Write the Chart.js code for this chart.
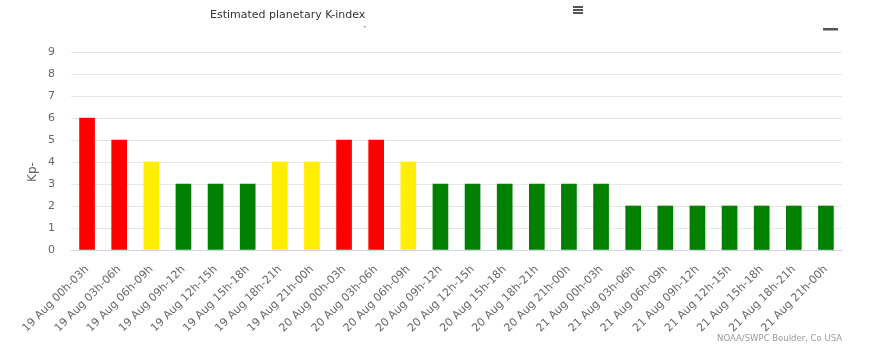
<!DOCTYPE html>
<html>
<head>
<meta charset="utf-8">
<script src="https://cdn.jsdelivr.net/npm/chart.js@4/dist/chart.umd.min.js"></script>
<style>
  html, body { margin: 0; padding: 0; background: #fff; }
  #wrap { position: relative; width: 871px; height: 347px; }
</style>
</head>
<body>
<div id="wrap"><canvas id="kpChart" width="871" height="347"></canvas></div>
<script>
// Periodos de 3 horas (eje X)
const periodos = [
    '19 Aug 00h-03h', '19 Aug 03h-06h', '19 Aug 06h-09h', '19 Aug 09h-12h',
    '19 Aug 12h-15h', '19 Aug 15h-18h', '19 Aug 18h-21h', '19 Aug 21h-00h',
    '20 Aug 00h-03h', '20 Aug 03h-06h', '20 Aug 06h-09h', '20 Aug 09h-12h',
    '20 Aug 12h-15h', '20 Aug 15h-18h', '20 Aug 18h-21h', '20 Aug 21h-00h',
    '21 Aug 00h-03h', '21 Aug 03h-06h', '21 Aug 06h-09h', '21 Aug 09h-12h',
    '21 Aug 12h-15h', '21 Aug 15h-18h', '21 Aug 18h-21h', '21 Aug 21h-00h'
];

// Valores Kp estimados
const valoresKp = [6, 5, 4, 3, 3, 3, 4, 4, 5, 5, 4, 3, 3, 3, 3, 3, 3, 2, 2, 2, 2, 2, 2, 2];

// Marcas del eje Y
const marcasY = [0, 1, 2, 3, 4, 5, 6, 7, 8, 9];

const tituloGrafico = 'Estimated planetary K-index';
const tituloEjeY = 'Kp-';
const creditos = 'NOAA/SWPC Boulder, Co USA';

// Color segun el nivel de Kp
function colorKp(v) {
    if (v >= 5) return '#ff0000';
    if (v >= 4) return '#ffee00';
    return '#008000';
}

const FUENTE = '"DejaVu Sans", sans-serif';

// Plugin para el titulo, el menu, el titulo del eje Y y los creditos
const decoraciones = {
    id: 'decoraciones',
    afterDraw(chart) {
        const ctx = chart.ctx;
        ctx.save();
        ctx.fillStyle = '#333333';
        ctx.font = '11px ' + FUENTE;
        ctx.textBaseline = 'alphabetic';
        ctx.textAlign = 'left';
        ctx.fillText(tituloGrafico, 210, 18);

        // icono de menu
        ctx.fillStyle = '#555555';
        for (let i = 0; i < 3; i++) {
            ctx.fillRect(573, 6 + i * 3, 10, 2);
        }
        // guion de la derecha
        ctx.fillRect(823, 28, 15, 2.5);
        ctx.fillStyle = '#888888';
        ctx.fillRect(364, 26, 1.5, 1.5);

        // titulo del eje Y
        ctx.save();
        ctx.translate(33, 172);
        ctx.rotate(-Math.PI / 2);
        ctx.fillStyle = '#666666';
        ctx.font = '12px ' + FUENTE;
        ctx.textAlign = 'center';
        ctx.textBaseline = 'middle';
        ctx.fillText(tituloEjeY, 0, 0);
        ctx.restore();

        ctx.fillStyle = '#999999';
        ctx.font = '8.5px ' + FUENTE;
        ctx.textAlign = 'right';
        ctx.fillText(creditos, 842, 341);
        ctx.restore();
    }
};

new Chart(document.getElementById('kpChart'), {
    type: 'bar',
    data: {
        labels: periodos,
        datasets: [{
            label: 'Kp',
            data: valoresKp,
            backgroundColor: valoresKp.map(colorKp),
            borderWidth: 0,
            barThickness: 15
        }]
    },
    options: {
        responsive: false,
        animation: false,
        layout: { padding: { top: 52, right: 29, left: 0, bottom: 0 } },
        plugins: {
            legend: { display: false },
            tooltip: { enabled: false }
        },
        scales: {
            x: {
                grid: { display: false, drawTicks: false },
                border: { color: '#ccd6eb', width: 1 },
                ticks: {
                    autoSkip: false,
                    maxRotation: 45,
                    minRotation: 45,
                    padding: 13,
                    color: '#666666',
                    font: { family: FUENTE, size: 11 }
                },
                afterFit(scale) { scale.height = 97; }
            },
            y: {
                min: 0,
                max: 9,
                afterBuildTicks(scale) {
                    scale.ticks = marcasY.map(v => ({ value: v }));
                },
                grid: { color: '#e6e6e6', drawTicks: false },
                border: { display: false },
                ticks: {
                    padding: 16,
                    color: '#666666',
                    font: { family: FUENTE, size: 11 }
                },
                afterFit(scale) { scale.width = 71; }
            }
        }
    },
    plugins: [decoraciones]
});
</script>
</body>
</html>
